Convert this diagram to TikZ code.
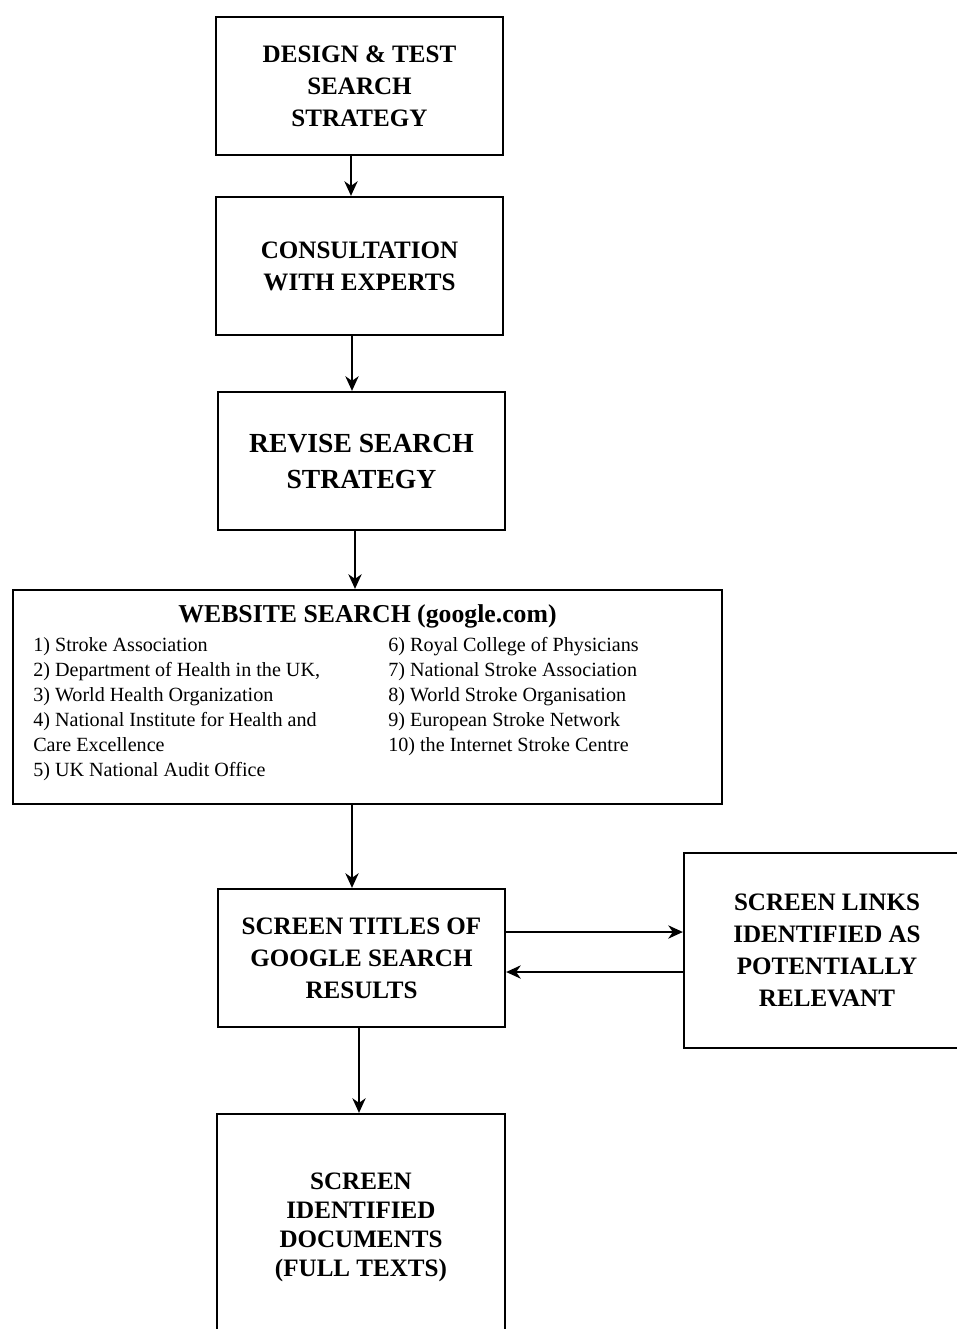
\documentclass[tikz,border=0pt]{standalone}
\usepackage{fontspec}
\setmainfont{Liberation Serif}
\usetikzlibrary{arrows.meta,calc}
\begin{document}
\begin{tikzpicture}[x=0.75pt,y=-0.75pt,
  box/.style={draw,line width=1.7pt,inner sep=0pt,align=center,
    font=\bfseries\fontsize{18.8}{24}\selectfont},
  arr/.style={line width=1.2pt,-{Stealth[length=11pt,width=10pt,inset=3.5pt]}},
  listtxt/.style={anchor=north west,inner sep=0pt,align=left,
    font=\fontsize{15.1}{18.75}\selectfont}]
\clip (0,0) rectangle (957,1329);
\useasboundingbox (0,0) rectangle (957,1329);
\node[box,minimum width=215.25pt,minimum height=103.5pt] (b1) at (359.5,86)
  {DESIGN \& TEST\\SEARCH\\STRATEGY};
\node[box,minimum width=215.25pt,minimum height=103.5pt] (b2) at (359.5,266)
  {CONSULTATION\\WITH EXPERTS};
\node[box,minimum width=215.25pt,minimum height=103.5pt,
  font=\bfseries\fontsize{20.7}{27}\selectfont] (b3) at (361.5,461)
  {REVISE SEARCH\\STRATEGY};
\node[box,minimum width=531.75pt,minimum height=160.5pt] (b4) at (367.5,697) {};
\node[inner sep=0pt,font=\bfseries\fontsize{19.3}{24}\selectfont] (t4) at (367.5,616)
  {WEBSITE SEARCH (google.com)};
\node[listtxt] (l1) at (33,637)
  {1) Stroke Association\\2) Department of Health in the UK,\\3) World Health Organization\\4) National Institute for Health and\\Care Excellence\\5) UK National Audit Office};
\node[listtxt] (l2) at (388,637)
  {6) Royal College of Physicians\\7) National Stroke Association\\8) World Stroke Organisation\\9) European Stroke Network\\10) the Internet Stroke Centre};
\node[box,minimum width=215.25pt,minimum height=103.5pt] (b5) at (361.5,958)
  {SCREEN TITLES OF\\GOOGLE SEARCH\\RESULTS};
\node[box,minimum width=214.5pt,minimum height=146.25pt] (b6) at (827,950.5)
  {SCREEN LINKS\\IDENTIFIED AS\\POTENTIALLY\\RELEVANT};
\node[box,minimum width=216pt,minimum height=169.5pt,
  font=\bfseries\fontsize{18.8}{21.75}\selectfont] (b7) at (361,1227)
  {SCREEN\\IDENTIFIED\\DOCUMENTS\\(FULL TEXTS)};
\coordinate (x1) at (351,0);
\coordinate (x2) at (352,0);
\coordinate (x3) at (355,0);
\coordinate (x4) at (352,0);
\coordinate (x5) at (359,0);
\coordinate (y1) at (0,932);
\coordinate (y2) at (0,972);
\draw[arr] (b1.south -| x1) -- (b2.north -| x1);
\draw[arr] (b2.south -| x2) -- (b3.north -| x2);
\draw[arr] (b3.south -| x3) -- (b4.north -| x3);
\draw[arr] (b4.south -| x4) -- (b5.north -| x4);
\draw[arr] (b5.south -| x5) -- (b7.north -| x5);
\draw[arr] (b5.east |- y1) -- (b6.west |- y1);
\draw[arr] (b6.west |- y2) -- (b5.east |- y2);
\end{tikzpicture}
\end{document}
